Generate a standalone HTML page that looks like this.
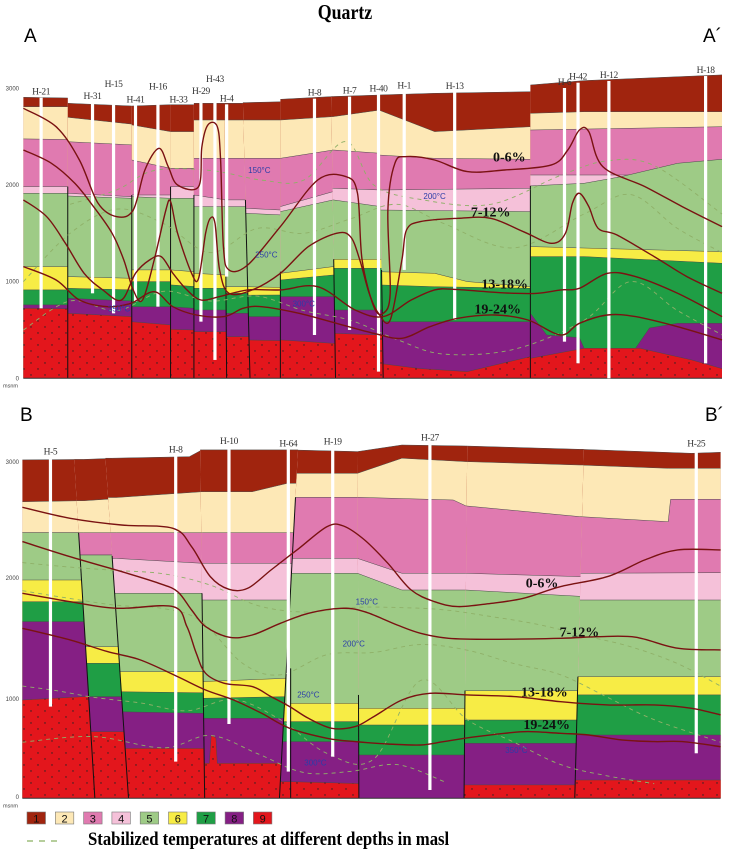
<!DOCTYPE html>
<html><head><meta charset="utf-8"><style>
html,body{margin:0;padding:0;background:#fff;}
svg{display:block;}
text{font-family:"Liberation Serif",serif;}
</style></head><body>
<svg id="chart" width="733" height="850" viewBox="0 0 733 850" xmlns="http://www.w3.org/2000/svg">
<defs>
<pattern id="dots" patternUnits="userSpaceOnUse" width="14" height="12">
<circle cx="3" cy="3" r="0.7" fill="#222"/><circle cx="10" cy="9" r="0.7" fill="#222"/>
</pattern>
</defs>
<text x="345" y="19" text-anchor="middle" font-size="21" font-weight="bold" transform="translate(345 0) scale(0.85 1) translate(-345 0)">Quartz</text>
<text x="24" y="42" font-size="19" style="font-family:'Liberation Sans',sans-serif">A</text>
<text x="703" y="42" font-size="19" style="font-family:'Liberation Sans',sans-serif">A´</text>
<text x="20" y="421" font-size="19" style="font-family:'Liberation Sans',sans-serif">B</text>
<text x="705" y="421" font-size="19" style="font-family:'Liberation Sans',sans-serif">B´</text>
<g id="legend"></g>
<line x1="27" y1="841" x2="63" y2="841" stroke="#8ab060" stroke-width="1.3" stroke-dasharray="6,6"/>
<text x="88" y="845" font-size="19" font-weight="bold" transform="translate(88 0) scale(0.88 1) translate(-88 0)">Stabilized temperatures at different depths in masl</text>
</svg>
<script>
const NS='http://www.w3.org/2000/svg';
const svg=document.getElementById('chart');
function mk(tag,parent){const e=document.createElementNS(NS,tag);parent.appendChild(e);return e;}
function at(e,o){for(const k in o)e.setAttribute(k,o[k]);}

const layerColors=['#a0240e','#fde8b6','#e07ab0','#f5c1d9','#9ecb86','#f7ec45','#1f9e45','#851f84','#e3161c'];
const legendCodes=['1','2','3','4','5','6','7','8','9'];
const elevTicks=[0,1000,2000,3000];
const elevTickPosB=[797,699,578,462];

// ---------- Section A ----------
const faultsA=[[500,500],[1450,1450],[2820,2820],[3650,3650],[4150,4150],[4800,4850],[5180,5350],[6000,6000],[7080,7180],[8100,8200],[11350,11350],[15450,15450]];
const faultStartA=[null,1983,1896,1983,1896,1845,1845,1103,1231,1121,1990,null];
const colsA=[
 [[2907,2900],[2810,2810],[2476,2470],[1983,1983],[1914,1914],[1155,1155],[914,914],[759,759],[724,720]],
 [[2845,2817],[2700,2630],[2448,2414],[1914,1879],[1886,1862],[1052,1034],[931,914],[828,800],[672,638]],
 [[2817,2830],[2621,2552],[2258,2172],[1896,1896],[1879,1862],[1121,1121],[1000,1000],[741,741],[586,552]],
 [[2830,2830],[2552,2552],[2172,2172],[1983,1983],[1862,1862],[1121,1103],[966,950],[741,724],[507,500]],
 [[2845,2845],[2672,2672],[2276,2276],[1896,1845],[1776,1776],[1086,1069],[931,931],[707,707],[483,483]],
 [[2845,2845],[2672,2672],[2276,2276],[1845,1845],[1776,1776],[948,948],[879,879],[672,672],[431,431]],
 [[2852,2860],[2672,2672],[2276,2276],[1759,1741],[1707,1690],[948,940],[860,862],[638,638],[397,390]],
 [[2886,2915],[2672,2707],[2276,2362],[1776,1931],[1724,1845],[1086,1155],[1017,1069],[845,845],[397,362]],
 [[2915,2931],[2707,2776],[2362,2327],[1965,1948],[1845,1776],[1231,1231],[1138,1138],[707,707],[466,448]],
 [[[8100,2931],[9300,2948],[11350,2965]],[[8100,2776],[9300,2552],[11350,2603]],[[8100,2310],[9300,2276],[11350,2265]],[1948,1965],[[8100,1741],[11350,1724]],[[8100,1103],[9300,1086],[10000,1000],[11350,948]],[[8100,966],[9300,948],[11350,931]],[586,586],[[8100,155],[9000,100],[10000,69],[11350,224]]],
 [[[11350,3034],[12500,3080],[15450,3138]],[[11350,2741],[12500,2758],[15450,2758]],[[11350,2569],[15450,2603]],[2103,2103],[[11350,1990],[12500,2017],[13300,2086],[14500,2224],[15450,2265]],[1362,1310],[[11350,1259],[12500,1259],[15450,1190]],[[11350,672],[11700,448],[12400,420],[12500,310],[13600,310],[13900,520],[14500,569],[15450,569]],[[11350,207],[12500,310],[13700,310],[14800,190],[15450,100]]]
];
const pctA_0_6=[[500,2793],[1200,2603],[1700,2258],[2100,1810],[2500,1672],[2850,1741],[3100,2155],[3400,2379],[3600,2190],[3800,2000],[4250,1983],[4320,2396],[4450,2621],[4650,2603],[4720,2258],[4780,1362],[4900,1121],[5300,1172],[6000,1569],[6800,2052],[7400,2086],[7650,1914],[7750,1224],[8000,741],[8200,672],[8350,879],[8300,1741],[8450,2224],[8700,2293],[9300,2258],[10000,2138],[10800,2155],[11800,2207],[12150,2362],[12400,2569],[12600,2552],[12900,2190],[13800,1983],[14600,1776],[15450,1569]];
const pctA_7_12=[[500,2362],[1100,2224],[1600,2017],[2000,1776],[2400,1500],[2650,1224],[2850,914],[3050,810],[3300,1224],[3550,1741],[3650,1827],[3800,1500],[4100,1086],[4250,1034],[4400,1500],[4500,1655],[4600,1603],[4700,1121],[4900,879],[5400,914],[6000,1086],[6600,1362],[7200,1500],[7500,1465],[7700,1224],[7900,879],[8100,672],[8350,603],[8600,1224],[8700,1534],[9000,1621],[9800,1655],[10500,1655],[11200,1517],[11800,1396],[12100,1500],[12250,1810],[12400,1914],[12600,1776],[12800,1552],[13200,1483],[14000,1259],[14700,1052],[15450,879]];
const pctA_13_18=[[500,1845],[1000,1672],[1400,1396],[1800,1086],[2200,914],[2600,810],[2900,1086],[3200,1224],[3450,1259],[3700,1086],[4000,914],[4300,810],[4700,845],[5300,914],[6000,914],[6800,948],[7600,707],[8200,638],[8800,810],[9300,914],[9700,921],[10400,896],[11000,879],[11500,879],[12000,914],[12400,931],[13000,1086],[13600,1052],[14500,879],[15450,638]];
const pctA_19_24=[[500,1155],[1200,1017],[1700,810],[2300,741],[2800,776],[3300,896],[3700,741],[4200,655],[4800,638],[5200,724],[5600,741],[6400,672],[7200,569],[8000,466],[8600,414],[9200,534],[9800,621],[10600,655],[11300,603],[12000,448],[12400,569],[13000,655],[13600,638],[14500,534],[15450,397]];
const tempA1=[[1500,1800],[2500,1950],[3300,2150],[4500,2150],[5600,2050],[6500,2050],[7400,2450],[8000,2000],[9000,1850],[10500,1800],[12000,2100],[13000,2250],[14000,2200],[15450,1700]];
const tempA2=[[500,1000],[1500,1500],[2500,1750],[3500,1600],[4500,1300],[5500,1550],[6500,1500],[7500,1650],[8500,1800],[9500,1600],[11000,1350],[12500,1700],[13500,1900],[14500,1550],[15450,1300]];
const tempA3=[[500,500],[1500,800],[2500,700],[3500,900],[4500,800],[5500,850],[6500,700],[7500,600],[8500,400],[9500,250],[11000,300],[12500,600],[13500,1000],[14500,700],[15450,450]];
const tempLabelsA=[['150°C',5550,2155],['200°C',9300,1886],['250°C',5700,1283],['300°C',6500,776],['350°C',2550,724]];
const pctLabelsA=[['0-6%',10900,2293],['7-12%',10500,1724],['13-18%',10800,983],['19-24%',10650,724]];
const wellNamesA=['H-21','H-31','H-15','H-41','H-16','H-33','H-29','H-43','H-4','H-8','H-7','H-40','H-1','H-13','H-6','H-42','H-12','H-18'];
const wellDistA=[880,1980,2430,2900,3380,3820,4300,4600,4850,6730,7480,8100,8650,9730,12080,12370,13030,15100];
const wellBottomA=[724,879,672,793,741,2830,586,190,1052,448,500,69,1121,603,379,155,0,155];
const wellLabelElevA=[2965,2920,3045,2886,3017,2886,2972,3096,2896,2955,2976,3000,3027,3024,3065,3120,3138,3189];

// ---------- Section B ----------
const faultsB=[[480,480],[1560,2030],[2230,2750],[4280,4380],[6390,5980],[7650,7680],[10000,9930],[12500,12300],[15420,15420]];
const faultStartB=[null,2367,2160,1827,2682,921,960,1084,null];
const colsB=[
 [[3015,3020],[2643,2652],[2367,2367],[2367,2367],[2367,2367],[1945,1945],[1752,1752],[1574,1574],[876,906]],
 [[3020,3030],[2652,2670],[2367,2367],[2168,2168],[2168,2168],[1351,1351],[1203,1203],[906,906],[594,594]],
 [[[2400,3030],[4050,3044],[4320,3104]],[2680,2732],[2367,2367],[2138,2094],[1827,1827],[1129,1129],[950,940],[772,757],[445,445]],
 [[3104,3104],[[4380,2732],[5400,2732],[6150,2807]],[2367,2367],[2094,2094],[1767,1767],[1040,1070],[891,906],[713,713],[[4380,312],[4480,312],[4520,560],[4620,540],[4650,312],[6150,312]]],
 [[3104,3089],[2896,2896],[2682,2682],[2138,2138],[2005,2005],[846,846],[683,683],[505,505],[149,132]],
 [[[7650,3089],[8600,3148],[9970,3139]],[[7650,2896],[8600,3030],[9970,3000]],[[7650,2682],[9700,2658],[9970,2605]],[[7650,2138],[8600,2005],[9970,2005]],[[7650,2005],[8600,1856],[9970,1856]],[802,802],[653,653],[386,386],[0,0]],
 [[3139,3110],[3000,2970],[2605,2510],[2005,1975],[1856,1800],[959,959],[698,698],[490,490],[119,119]],
 [[[12400,3110],[14800,3074],[15420,3083]],[[12400,2970],[14300,2940],[15420,2940]],[[12400,2510],[14300,2465],[14350,2664],[15420,2664]],[2005,2010],[1767,1767],[1084,1084],[921,921],[564,564],[163,163]]
];
const pctB_0_6=[[480,2593],[1500,2495],[2600,2435],[3700,2406],[4100,2242],[4500,1975],[4900,1862],[5300,1871],[5800,2034],[6400,2228],[7000,2421],[7350,2426],[7800,2302],[8300,2094],[8800,1856],[9300,1752],[9800,1708],[10500,1737],[11200,1782],[12000,1886],[13000,1975],[13800,2124],[14500,2213],[15420,2213]];
const pctB_7_12=[[480,2287],[1500,2153],[2600,2020],[3400,1916],[3800,1841],[4100,1678],[4400,1530],[4900,1435],[5400,1455],[6000,1559],[6600,1648],[7300,1693],[7800,1663],[8500,1544],[9000,1470],[9600,1426],[10500,1417],[12000,1426],[12800,1440],[13600,1435],[14500,1337],[15420,1322]];
const pctB_13_18=[[480,1827],[1500,1752],[2500,1693],[3700,1708],[4000,1530],[4200,1292],[4400,1114],[4800,1025],[5400,995],[5800,906],[6200,817],[6600,713],[7100,624],[7600,639],[8000,728],[8600,876],[9200,936],[10000,921],[11000,906],[12000,861],[13000,832],[14000,832],[14800,802],[15420,743]];
const pctB_19_24=[[480,1515],[1500,1411],[2300,1307],[3000,1233],[3800,1084],[4400,965],[5000,876],[5600,757],[6200,624],[7000,535],[7600,505],[8300,484],[9000,475],[9500,505],[10100,544],[10800,579],[11300,594],[12000,579],[12600,564],[13300,520],[14000,505],[14600,505],[15420,460]];
const tempB1=[[480,2100],[1500,2060],[2500,2030],[3500,2000],[4500,1900],[5500,1720],[6500,1660],[7500,1700],[8500,1700],[9500,1680],[10500,1620],[11500,1550],[12500,1450],[13500,1350],[14500,1200],[15420,1000]];
const tempB2=[[480,1850],[1500,1780],[2500,1720],[3500,1690],[4300,1580],[5200,1200],[6000,1100],[7000,1280],[8000,1300],[9000,1370],[10000,1320],[11000,1200],[12000,1100],[13000,900],[14000,700],[15420,500]];
const tempB3=[[480,1000],[1200,960],[2000,900],[3000,850],[4000,780],[5000,880],[6000,700],[7000,400],[8000,350],[9000,1050],[10000,700],[11000,500],[12000,300],[13000,200],[14000,130]];
const tempB4=[[480,500],[2000,550],[3500,450],[4500,560],[5500,400],[6500,230],[7500,240],[8500,300],[9500,150]];
const tempLabelsB=[['150°C',7850,1752],['200°C',7570,1381],['250°C',6600,926],['300°C',6750,318],['350°C',11050,431]];
const pctLabelsB=[['0-6%',11600,1925],['7-12%',12400,1485],['13-18%',11650,950],['19-24%',11700,662]];
const wellNamesB=['H-5','H-8','H-10','H-64','H-19','H-27','H-25'];
const wellDistB=[1080,3760,4900,6170,7120,9200,14900];
const wellBottomB=[817,327,662,238,371,74,401];
const wellLabelElevB=[3089,3110,3184,3163,3178,3217,3163];
const extraFaultsB=[[6220,1158,6220,0]];

// scales
const xScale=d=>d/21.4;
const yScaleA=e=>378.3-e*0.09667;
const yScaleB=e=>798.3-e*0.11223;

function faultX(f,e){return f[1]+(f[0]-f[1])*(e/3200);}
function smoothPath(pts,xs,ys){
  const p=pts.map(q=>[xs(q[0]),ys(q[1])]);
  let d='M'+p[0][0].toFixed(1)+','+p[0][1].toFixed(1);
  for(let i=0;i<p.length-1;i++){
    const p0=p[i-1]||p[i],p1=p[i],p2=p[i+1],p3=p[i+2]||p2;
    const c1=[p1[0]+(p2[0]-p0[0])/6,p1[1]+(p2[1]-p0[1])/6];
    const c2=[p2[0]-(p3[0]-p1[0])/6,p2[1]-(p3[1]-p1[1])/6];
    d+=' C'+c1[0].toFixed(1)+','+c1[1].toFixed(1)+' '+c2[0].toFixed(1)+','+c2[1].toFixed(1)+' '+p2[0].toFixed(1)+','+p2[1].toFixed(1);
  }
  return d;
}

function drawPanel(id,faults,faultStart,cols,pcts,temps,tempLabels,pctLabels,wNames,wDist,wBot,wLab,ys,extraFaults,tickPos){
  const g=mk('g',svg);
  
  
  const defs=mk('defs',g);
  cols.forEach((col,ci)=>{
    const fL=faults[ci],fR=faults[ci+1];
    const cp=mk('clipPath',defs);
    at(cp,{id:id+'-clip-'+ci});
    const cpp=mk('polygon',cp);
    at(cpp,{points:[[faultX(fL,3300),3300],[faultX(fR,3300),3300],[faultX(fR,0),0],[faultX(fL,0),0]].map(q=>xScale(q[0]).toFixed(1)+','+ys(q[1]).toFixed(1)).join(' ')});
    const cg=mk('g',g);
    
    
    at(cg,{'clip-path':'url(#'+id+'-clip-'+ci+')'});
    const xl=Math.min(fL[0],fL[1])-300,xr=Math.max(fR[0],fR[1])+300;
    col.forEach((entry,li)=>{
      let pts;
      if(Array.isArray(entry[0])) pts=entry.slice();
      else pts=[[(fL[0]+fL[1])/2,entry[0]],[(fR[0]+fR[1])/2,entry[1]]];
      pts=[[xl,pts[0][1]],...pts,[xr,pts[pts.length-1][1]],[xr,-300],[xl,-300]];
      const poly=mk('polygon',cg);
      
      
      at(poly,{points:pts.map(q=>xScale(q[0]).toFixed(1)+','+ys(q[1]).toFixed(1)).join(' '),fill:layerColors[li],stroke:'#4a4a4a','stroke-width':0.5});
      if(li===8){
        const dp=mk('polygon',cg);
        
        
        at(dp,{points:poly.getAttribute('points'),fill:'url(#dots)'});
      }
    });
  });
  faults.forEach((f,i)=>{
    if(faultStart[i]===null) return;
    const ln=mk('line',g);
    
    
    at(ln,{x1:xScale(faultX(f,faultStart[i])),y1:ys(faultStart[i]),x2:xScale(faultX(f,0)),y2:ys(0),stroke:'#111','stroke-width':1});
  });
  (extraFaults||[]).forEach(f=>{
    const ln=mk('line',g);
    
    
    at(ln,{x1:xScale(f[0]),y1:ys(f[1]),x2:xScale(f[2]),y2:ys(f[3]),stroke:'#111','stroke-width':1});
  });
  const bl=mk('line',g);
  
  
  at(bl,{x1:xScale(faults[0][1]),y1:ys(0),x2:xScale(faults[faults.length-1][1]),y2:ys(0),stroke:'#333','stroke-width':1});
  temps.forEach(t=>{
    const p=mk('path',g);
    
    
    at(p,{d:smoothPath(t,xScale,ys),fill:'none',stroke:'#8fb068','stroke-width':0.9,'stroke-dasharray':'4,4'});
  });
  wNames.forEach((n,i)=>{
    const y1=ys(wLab[i])+6,y2=ys(wBot[i]);
    const w=mk('rect',g);
    
    
    at(w,{x:xScale(wDist[i])-1.6,y:y1,width:3.2,height:Math.max(0,y2-y1),fill:'#fff'});
    const t=mk('text',g);
    
    
    at(t,{x:xScale(wDist[i]),y:ys(wLab[i])+3,'text-anchor':'middle','font-size':9.5,'letter-spacing':'-0.4',fill:'#333'});
    t.textContent=n;
  });
  pcts.forEach((c,i)=>{
    const p=mk('path',g);
    
    
    at(p,{d:smoothPath(c,xScale,ys),fill:'none',stroke:'#7a1212','stroke-width':1.4});
  });
  tempLabels.forEach(l=>{
    const t=mk('text',g);
    
    
    at(t,{x:xScale(l[1]),y:ys(l[2])+3,'text-anchor':'middle','font-size':8,fill:'#2b3da8',style:"font-family:'Liberation Sans',sans-serif"});
    t.textContent=l[0];
  });
  pctLabels.forEach(l=>{
    const t=mk('text',g);
    
    
    at(t,{x:xScale(l[1]),y:ys(l[2])+5,'text-anchor':'middle','font-size':14,'font-weight':'bold',fill:'#111'});
    t.textContent=l[0];
  });
  elevTicks.forEach((v,i)=>{
    const t=mk('text',g);
    
    
    const ty=tickPos?tickPos[i]:ys(v);
    at(t,{x:19,y:ty+2,'text-anchor':'end','font-size':6,fill:'#444',style:"font-family:'Liberation Sans',sans-serif"});
    t.textContent=String(v);
  });
  const u=mk('text',g);
  
  
  at(u,{x:3,y:ys(0)+9,'font-size':5.5,fill:'#444',style:"font-family:'Liberation Sans',sans-serif"});
  u.textContent='msnm';
}

drawPanel('section-a',faultsA,faultStartA,colsA,[pctA_0_6,pctA_7_12,pctA_13_18,pctA_19_24],[tempA1,tempA2,tempA3],tempLabelsA,pctLabelsA,wellNamesA,wellDistA,wellBottomA,wellLabelElevA,yScaleA,null,null);
drawPanel('section-b',faultsB,faultStartB,colsB,[pctB_0_6,pctB_7_12,pctB_13_18,pctB_19_24],[tempB1,tempB2,tempB3,tempB4],tempLabelsB,pctLabelsB,wellNamesB,wellDistB,wellBottomB,wellLabelElevB,yScaleB,extraFaultsB,elevTickPosB);

const lg=document.getElementById('legend');
legendCodes.forEach((c,i)=>{
  const x=27+i*28.3;
  const r=mk('rect',lg);
  
  
  at(r,{x:x,y:812,width:18.5,height:12,fill:layerColors[i],stroke:'#777','stroke-width':0.6});
  const t=mk('text',lg);
  
  
  at(t,{x:x+9.25,y:822.5,'text-anchor':'middle','font-size':11,fill:'#111',style:"font-family:'Liberation Sans',sans-serif"});
  t.textContent=c;
});
</script>
</body></html>
